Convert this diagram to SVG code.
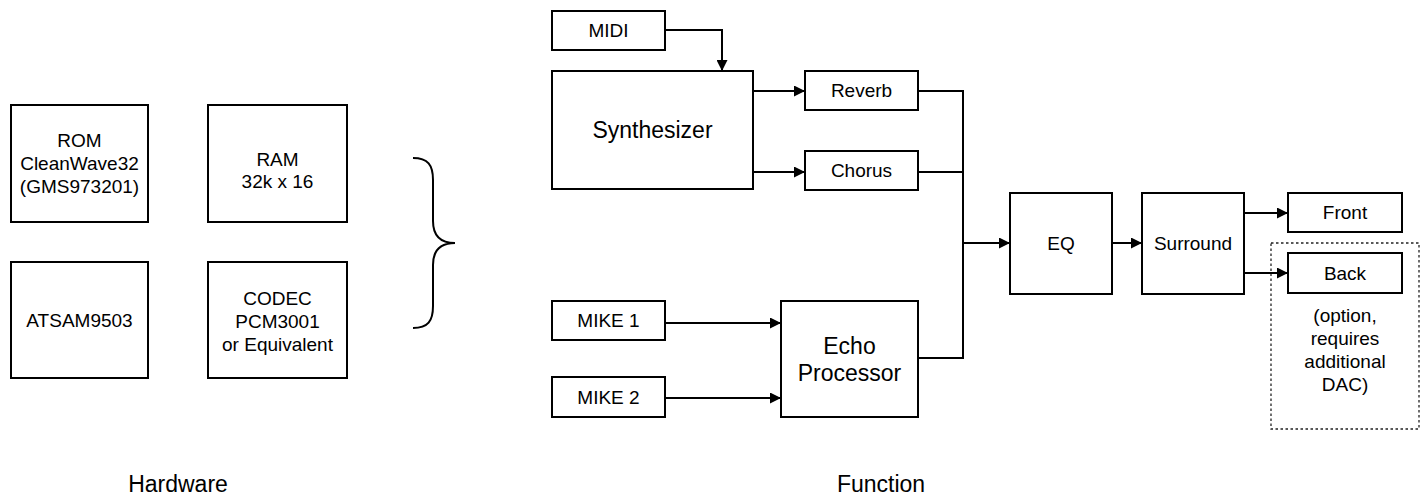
<svg xmlns="http://www.w3.org/2000/svg" width="1424" height="498" viewBox="0 0 1424 498">
<style>
.box{fill:#fff;stroke:#000;stroke-width:2}
.t{font-family:"Liberation Sans",Arial,sans-serif;font-size:19px;fill:#000;text-anchor:middle}
.tl{font-family:"Liberation Sans",Arial,sans-serif;font-size:23px;fill:#000;text-anchor:middle}
.c{fill:none;stroke:#000;stroke-width:2}
.dash{fill:none;stroke:#222;stroke-width:1.3;stroke-dasharray:2.5 2.5}
</style>
<defs>
<marker id="ah" markerUnits="userSpaceOnUse" markerWidth="11" markerHeight="11" refX="10" refY="5" orient="auto" viewBox="0 0 10 10">
<path d="M0,0 L10,5 L0,10 z" fill="#000"/>
</marker>
</defs>
<rect width="1424" height="498" fill="#fff"/>

<g id="hardware">
<g id="rom"><rect class="box" x="11" y="105" width="137" height="117"/>
<text class="t" x="79.5" y="147">ROM</text><text class="t" x="79.5" y="170">CleanWave32</text><text class="t" x="79.5" y="193">(GMS973201)</text></g>
<g id="ram"><rect class="box" x="208" y="105" width="139" height="117"/>
<text class="t" x="277.5" y="166">RAM</text><text class="t" x="277.5" y="188">32k x 16</text></g>
<g id="atsam"><rect class="box" x="11" y="262" width="137" height="116"/>
<text class="t" x="79.5" y="327">ATSAM9503</text></g>
<g id="codec"><rect class="box" x="208" y="262" width="139" height="116"/>
<text class="t" x="277.5" y="305">CODEC</text><text class="t" x="277.5" y="328">PCM3001</text><text class="t" x="277.5" y="351">or Equivalent</text></g>
<path id="brace" class="c" d="M413,158 C428,158 433,165 433,180 L433,221 C433,236 440,243 455,243 C440,243 433,250 433,265 L433,306 C433,321 428,328 413,328"/>
<text id="hardware-label" class="tl" x="178" y="492">Hardware</text>
</g>

<g id="dashed-option">
<rect class="dash" x="1271" y="243" width="148" height="186"/>
<text class="t" x="1345" y="322">(option,</text>
<text class="t" x="1345" y="345">requires</text>
<text class="t" x="1345" y="368">additional</text>
<text class="t" x="1345" y="391">DAC)</text>
</g>

<g id="connectors">
<path class="c" d="M665,30 H722 V71" marker-end="url(#ah)"/>
<path class="c" d="M753,91 H805" marker-end="url(#ah)"/>
<path class="c" d="M753,172 H805" marker-end="url(#ah)"/>
<path class="c" d="M918,91 H963 V243 H1010" marker-end="url(#ah)"/>
<path class="c" d="M918,172 H963"/>
<path class="c" d="M918,358 H963 V243"/>
<path class="c" d="M665,323 H781" marker-end="url(#ah)"/>
<path class="c" d="M665,398 H781" marker-end="url(#ah)"/>
<path class="c" d="M1112,243 H1142" marker-end="url(#ah)"/>
<path class="c" d="M1244,213 H1288" marker-end="url(#ah)"/>
<path class="c" d="M1244,273 H1288" marker-end="url(#ah)"/>
</g>

<g id="midi"><rect class="box" x="552" y="11" width="113" height="39"/><text class="t" x="608.5" y="37">MIDI</text></g>
<g id="synth"><rect class="box" x="552" y="71" width="201" height="118"/><text class="tl" x="652.5" y="138">Synthesizer</text></g>
<g id="reverb"><rect class="box" x="805" y="71" width="113" height="39"/><text class="t" x="861.5" y="97">Reverb</text></g>
<g id="chorus"><rect class="box" x="805" y="151" width="113" height="39"/><text class="t" x="861.5" y="177">Chorus</text></g>
<g id="mike1"><rect class="box" x="552" y="301" width="113" height="39"/><text class="t" x="608.5" y="327">MIKE 1</text></g>
<g id="mike2"><rect class="box" x="552" y="377" width="113" height="40"/><text class="t" x="608.5" y="404">MIKE 2</text></g>
<g id="echo"><rect class="box" x="781" y="301" width="137" height="116"/><text class="tl" x="849.5" y="354">Echo</text><text class="tl" x="849.5" y="381">Processor</text></g>
<g id="eq"><rect class="box" x="1010" y="193" width="102" height="101"/><text class="t" x="1061" y="250">EQ</text></g>
<g id="surround"><rect class="box" x="1142" y="193" width="102" height="101"/><text class="t" x="1193" y="250">Surround</text></g>
<g id="front"><rect class="box" x="1288" y="193" width="114" height="39"/><text class="t" x="1345" y="219">Front</text></g>
<g id="back"><rect class="box" x="1288" y="253" width="114" height="40"/><text class="t" x="1345" y="280">Back</text></g>
<text id="function-label" class="tl" x="881" y="492">Function</text>
</svg>
